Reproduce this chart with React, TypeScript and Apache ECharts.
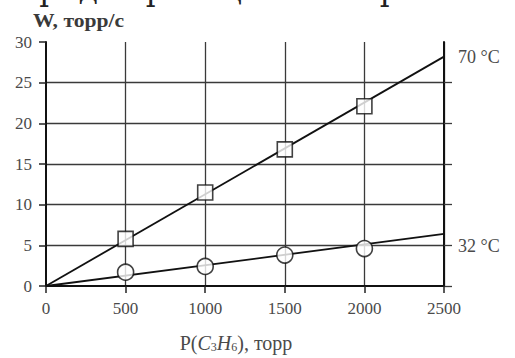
import React, { useEffect, useRef } from "react";
import * as echarts from "echarts";

const headerText = "порядок реакции и энергию а";
const yTitle = "W, торр/с";
const xTicks = [0, 500, 1000, 1500, 2000, 2500];
const yTicks = [0, 5, 10, 15, 20, 25, 30];
const pressure = [500, 1000, 1500, 2000];
const rate70 = [5.8, 11.5, 16.8, 22.1];
const rate32 = [1.7, 2.4, 3.8, 4.6];
const fit70End = 28.2;
const fit32End = 6.4;
const label70 = "70 °C";
const label32 = "32 °C";

const SERIF = "'Liberation Serif', 'DejaVu Serif', serif";
const TXT = "#4a4a4a";
const GRID = "#3a3a3a";

export default function App() {
  const ref = useRef<HTMLDivElement>(null);
  useEffect(() => {
    document.body.style.margin = "0";
    const chart = echarts.init(ref.current!, undefined, { renderer: "svg" });
    const xMax = xTicks[xTicks.length - 1];
    chart.setOption({
      animation: false,
      backgroundColor: "#ffffff",
      grid: { left: 46, right: 71, top: 42, bottom: 70, containLabel: false },
      graphic: [
        {
          type: "text",
          x: 0,
          y: -27,
          style: {
            text: headerText,
            font: "31px 'DejaVu Serif', 'Liberation Serif', serif",
            fill: "#222",
            align: "left",
            verticalAlign: "top",
          },
          z: 10,
        },
        {
          type: "text",
          x: 33,
          y: 12,
          scaleX: 1.2,
          style: {
            text: yTitle,
            font: "bold 18px 'Liberation Serif', 'DejaVu Serif', serif",
            fill: "#3a3a3a",
            align: "left",
            verticalAlign: "top",
          },
          z: 10,
        },
      ],
      xAxis: {
        type: "value",
        min: xTicks[0],
        max: xMax,
        interval: 500,
        name: "{n|P(}{i|C}{s|3}{i|H}{s|6}{n|), торр}",
        nameLocation: "middle",
        nameGap: 46,
        nameTextStyle: {
          padding: [0, 18, 0, 0],
          rich: {
            n: { fontFamily: SERIF, fontSize: 20, color: TXT },
            i: { fontFamily: SERIF, fontSize: 20, fontStyle: "italic", color: TXT },
            s: { fontFamily: SERIF, fontSize: 12, color: TXT, verticalAlign: "bottom", padding: [9, 0, 0, 0] },
          },
        },
        axisLine: { show: true, onZero: false, lineStyle: { color: "#111", width: 2 } },
        axisTick: { show: true, length: 7, lineStyle: { color: "#222", width: 1.5 } },
        axisLabel: { margin: 14, fontFamily: SERIF, fontSize: 17, color: TXT, formatter: (v: number) => String(v) },
        splitLine: { show: true, showMinLine: false, lineStyle: { color: GRID, width: 1.3 } },
      },
      yAxis: [
        {
          type: "value",
          min: yTicks[0],
          max: yTicks[yTicks.length - 1],
          interval: 5,
          axisLine: { show: true, lineStyle: { color: "#111", width: 2 } },
          axisTick: { show: true, length: 7, lineStyle: { color: "#222", width: 1.5 } },
          axisLabel: { margin: 14, fontFamily: SERIF, fontSize: 17, color: TXT },
          splitLine: { show: true, showMinLine: false, showMaxLine: false, lineStyle: { color: GRID, width: 1.3 } },
        },
        {
          type: "value",
          position: "right",
          min: yTicks[0],
          max: yTicks[yTicks.length - 1],
          interval: 5,
          axisLine: { show: true, lineStyle: { color: "#111", width: 2 } },
          axisTick: { show: true, length: 8, customValues: yTicks.slice(0, -1), lineStyle: { color: GRID, width: 1.3 } },
          axisLabel: { show: false },
          splitLine: { show: false },
        },
      ],
      series: [
        {
          type: "line",
          data: [[0, 0], [xMax, fit70End]],
          showSymbol: false,
          lineStyle: { color: "#111", width: 1.8 },
          endLabel: { show: true, formatter: label70, distance: 14, fontFamily: SERIF, fontSize: 18, color: TXT },
          z: 3,
        },
        {
          type: "line",
          data: [[0, 0], [xMax, fit32End]],
          showSymbol: false,
          lineStyle: { color: "#111", width: 1.8 },
          endLabel: { show: true, formatter: label32, distance: 14, offset: [0, 12], fontFamily: SERIF, fontSize: 18, color: TXT },
          z: 3,
        },
        {
          type: "scatter",
          data: pressure.map((p, i) => [p, rate70[i]]),
          symbol: "rect",
          symbolSize: 15,
          itemStyle: { color: "#fff", borderColor: "#111", borderWidth: 1.6 },
          z: 5,
        },
        {
          type: "scatter",
          data: pressure.map((p, i) => [p, rate32[i]]),
          symbol: "circle",
          symbolSize: 16,
          itemStyle: { color: "#fff", borderColor: "#111", borderWidth: 1.6 },
          z: 5,
        },
      ],
    });
    return () => chart.dispose();
  }, []);
  return <div ref={ref} style={{ width: 515, height: 358 }} />;
}
